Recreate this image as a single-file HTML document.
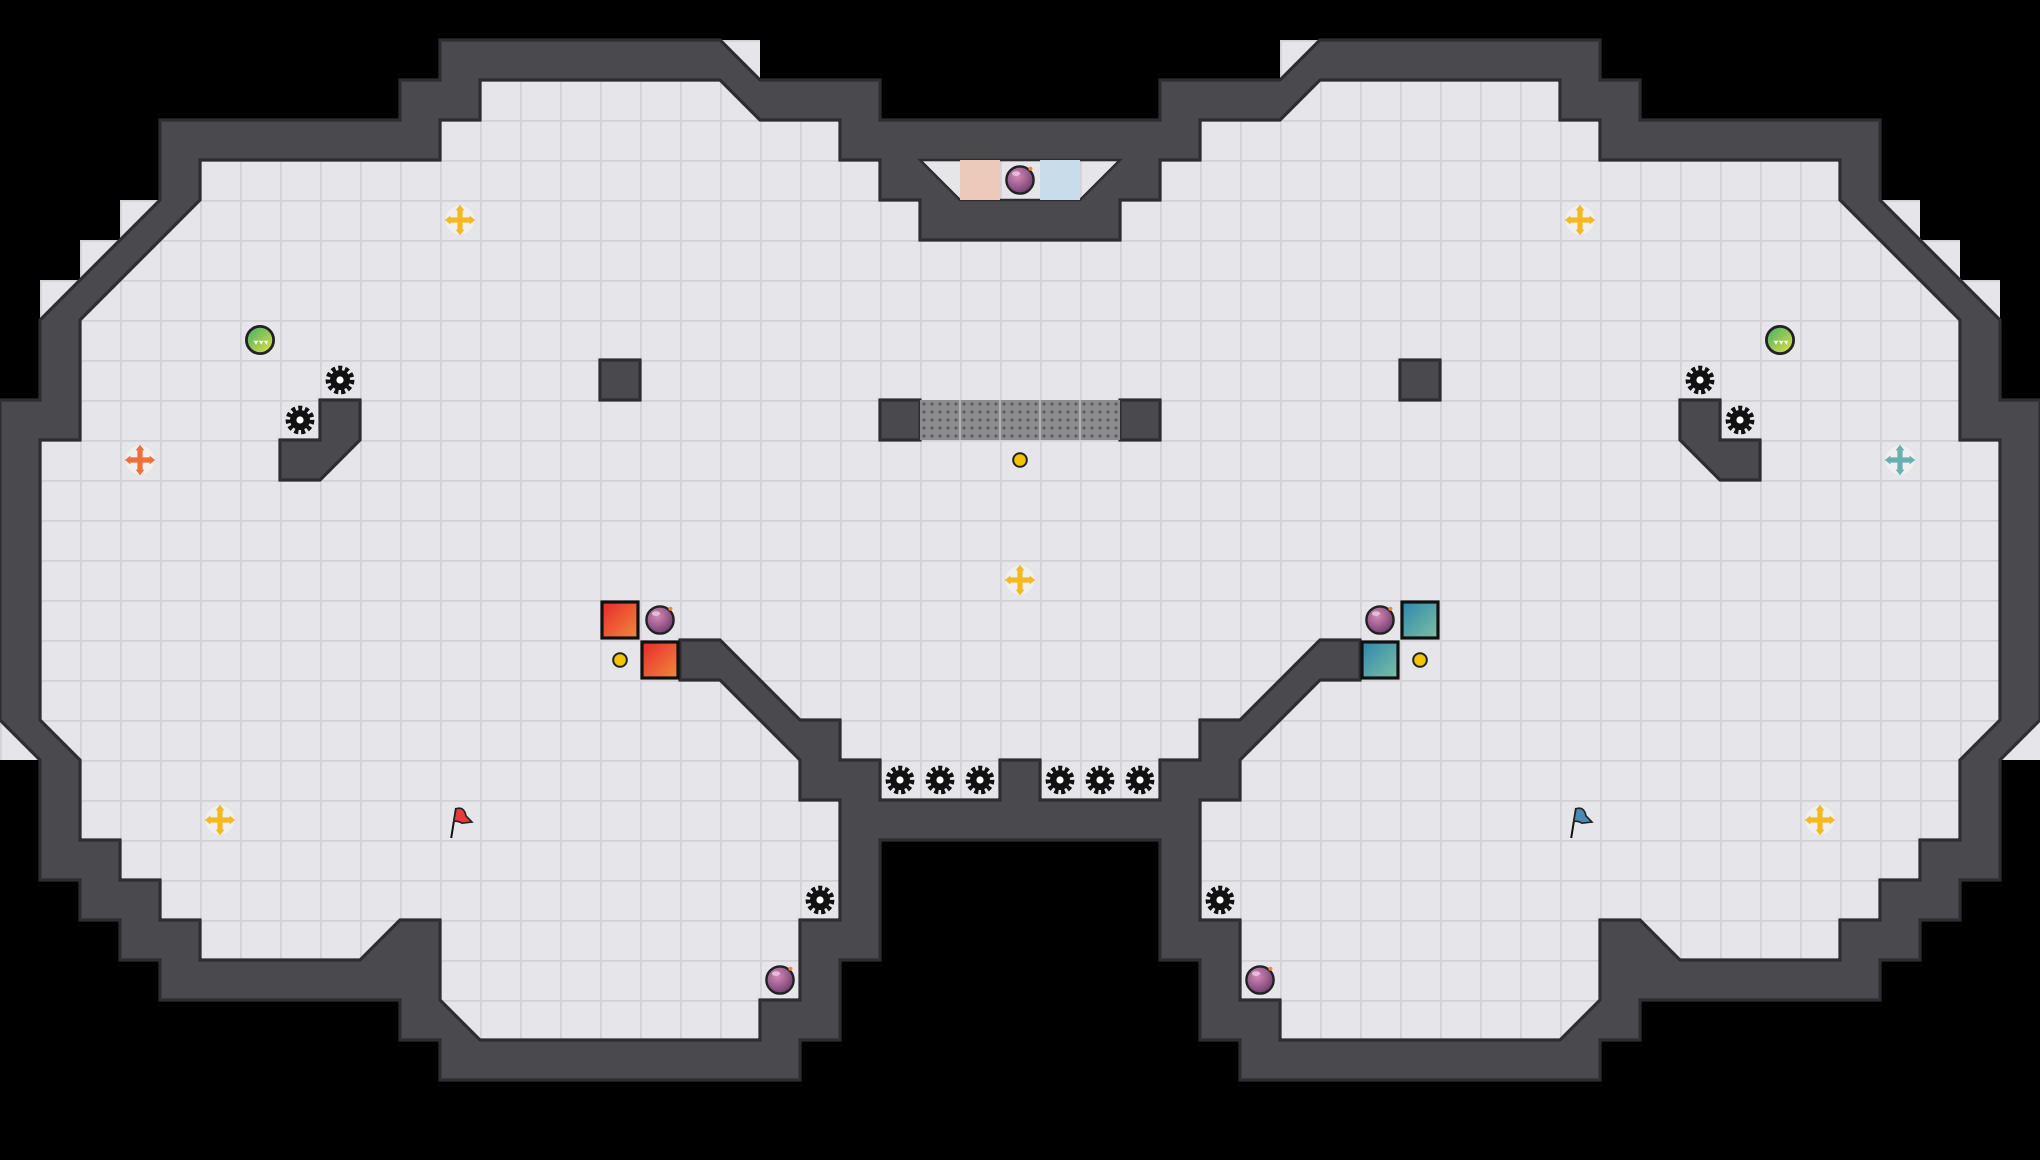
<!DOCTYPE html>
<html><head><meta charset="utf-8"><style>html,body{margin:0;padding:0;background:#000}svg{display:block}</style></head>
<body>
<svg width="2040" height="1160" viewBox="0 0 51 29" xmlns="http://www.w3.org/2000/svg">
<defs>
<pattern id="g" width="1" height="1" patternUnits="userSpaceOnUse">
<rect width="1" height="1" fill="#e6e6ea"/>
<path d="M0 0.02H1M0.02 0V1" stroke="#d2d2d6" stroke-width="0.05"/>
</pattern>
<pattern id="gr" width="0.2" height="0.2" patternUnits="userSpaceOnUse">
<rect width="0.2" height="0.2" fill="#8c8c8e"/>
<circle cx="0.1" cy="0.1" r="0.04" fill="#5e5e60"/>
</pattern>
<radialGradient id="bomb" cx="0.4" cy="0.35" r="0.7"><stop offset="0" stop-color="#d68ab6"/><stop offset="1" stop-color="#6b3a6e"/></radialGradient>
<linearGradient id="red" x1="0" y1="0" x2="1" y2="1"><stop offset="0" stop-color="#e8282e"/><stop offset="1" stop-color="#f08a3a"/></linearGradient>
<linearGradient id="blue" x1="0" y1="0" x2="1" y2="1"><stop offset="0" stop-color="#2f86b0"/><stop offset="1" stop-color="#7cc0a0"/></linearGradient>
<linearGradient id="pill" x1="0" y1="0" x2="1" y2="1"><stop offset="0" stop-color="#3fae6e"/><stop offset="1" stop-color="#e8e040"/></linearGradient>
<g id="gear"><circle r="0.3" fill="none" stroke="#111" stroke-width="0.12" stroke-dasharray="0.1 0.07"/><circle r="0.25" fill="#111"/><circle r="0.09" fill="#fff"/></g>
<g id="bm"><circle r="0.34" fill="url(#bomb)" stroke="#222" stroke-width="0.06"/><circle cx="0.26" cy="-0.28" r="0.05" fill="#f08a3a"/><ellipse cx="-0.1" cy="-0.16" rx="0.1" ry="0.06" fill="#f3d6ea" opacity="0.7"/></g>
<g id="by"><circle r="0.36" fill="#f4f4f4" opacity="0.7"/><path d="M-0.3 0H0.3M0 -0.3V0.3" stroke="#f5b820" stroke-width="0.13"/><path d="M-0.38 0L-0.24 -0.11V0.11ZM0.38 0L0.24 -0.11V0.11ZM0 -0.38L-0.11 -0.24H0.11ZM0 0.38L-0.11 0.24H0.11Z" fill="#f5b820"/></g>
<g id="bo"><circle r="0.36" fill="#f4f4f4" opacity="0.7"/><path d="M-0.3 0H0.3M0 -0.3V0.3" stroke="#f0703a" stroke-width="0.13"/><path d="M-0.38 0L-0.24 -0.11V0.11ZM0.38 0L0.24 -0.11V0.11ZM0 -0.38L-0.11 -0.24H0.11ZM0 0.38L-0.11 0.24H0.11Z" fill="#f0703a"/></g>
<g id="bt"><circle r="0.36" fill="#f4f4f4" opacity="0.7"/><path d="M-0.3 0H0.3M0 -0.3V0.3" stroke="#6ab0b0" stroke-width="0.13"/><path d="M-0.38 0L-0.24 -0.11V0.11ZM0.38 0L0.24 -0.11V0.11ZM0 -0.38L-0.11 -0.24H0.11ZM0 0.38L-0.11 0.24H0.11Z" fill="#6ab0b0"/></g>
<g id="pl"><circle r="0.34" fill="url(#pill)" stroke="#222" stroke-width="0.07"/><path d="M-0.16 0.02L-0.1 0.12L-0.04 0.02ZM-0.03 0.02L0.03 0.12L0.09 0.02ZM0.1 0.02L0.16 0.12L0.2 0.02Z" fill="#fff"/></g>
<g id="dot"><circle r="0.17" fill="#f5c400" stroke="#222" stroke-width="0.05"/></g>
</defs>
<rect width="51" height="29" fill="#000"/>
<!-- light triangles outside walls -->
<g fill="url(#g)">
<path d="M18 1H19V2Z"/><path d="M33 1H32V2Z"/>
<path d="M3 5H4L3 6Z"/><path d="M2 6H3L2 7Z"/><path d="M1 7H2L1 8Z"/>
<path d="M48 5H47L48 6Z"/><path d="M49 6H48L49 7Z"/><path d="M50 7H49L50 8Z"/>
<path d="M0 18V19H1Z"/><path d="M51 18V19H50Z"/>
</g>
<!-- outer wall -->
<polygon fill="#4a494e" stroke="#2e2d32" stroke-width="0.08" points="0,10 1,10 1,8 4,5 4,3 10,3 10,2 11,2 11,1 18,1 19,2 22,2 22,3 29,3 29,2 32,2 33,1 40,1 40,2 41,2 41,3 47,3 47,5 50,8 50,10 51,10 51,18 50,19 50,22 49,22 49,23 48,23 48,24 47,24 47,25 41,25 41,26 40,26 40,27 31,27 31,26 30,26 30,24 29,24 29,21 22,21 22,24 21,24 21,26 20,26 20,27 11,27 11,26 10,26 10,25 4,25 4,24 3,24 3,23 2,23 2,22 1,22 1,19 0,18"/>
<!-- floor -->
<polygon fill="url(#g)" stroke="#2e2d32" stroke-width="0.08" points="2,8 5,5 5,4 11,4 11,3 12,3 12,2 18,2 19,3 21,3 21,4 22,4 22,5 23,5 23,6 28,6 28,5 29,5 29,4 30,4 30,3 32,3 33,2 39,2 39,3 40,3 40,4 46,4 46,5 49,8 49,11 50,11 50,18 49,19 49,21 48,21 48,22 47,22 47,23 46,23 46,24 42,24 41,23 40,23 40,25 39,26 32,26 32,25 31,25 31,23 30,23 30,20 31,20 31,19 33,17 34,17 34,16 33,16 31,18 30,18 30,19 29,19 29,20 26,20 26,19 25,19 25,20 22,20 22,19 21,19 21,18 20,18 18,16 17,16 17,17 18,17 20,19 20,20 21,20 21,23 20,23 20,25 19,25 19,26 12,26 11,25 11,23 10,23 9,24 5,24 5,23 4,23 4,22 3,22 3,21 2,21 2,19 1,18 1,11 2,11"/>
<polygon fill="url(#g)" stroke="#2e2d32" stroke-width="0.06" points="23,4 28,4 27,5 24,5"/>
<rect x="24" y="4" width="1" height="1" fill="#ecc9b8"/>
<rect x="26" y="4" width="1" height="1" fill="#c9dce9"/>
<!-- islands -->
<g fill="#4a494e" stroke="#2e2d32" stroke-width="0.08">
<rect x="15" y="9" width="1" height="1"/><rect x="35" y="9" width="1" height="1"/>
<polygon points="8,10 9,10 9,11 8,12 7,12 7,11 8,11"/>
<polygon points="43,10 42,10 42,11 43,12 44,12 44,11 43,11"/>
<rect x="22" y="10" width="1" height="1"/><rect x="28" y="10" width="1" height="1"/>
</g>
<rect x="23" y="10" width="5" height="1" fill="url(#gr)"/>
<path d="M24 10V11M25 10V11M26 10V11M27 10V11" stroke="#b0b0b2" stroke-width="0.05"/>
<!-- boxes -->
<rect x="15.05" y="15.05" width="0.9" height="0.9" fill="url(#red)" stroke="#111" stroke-width="0.08"/>
<rect x="16.05" y="16.05" width="0.9" height="0.9" fill="url(#red)" stroke="#111" stroke-width="0.08"/>
<rect x="35.05" y="15.05" width="0.9" height="0.9" fill="url(#blue)" stroke="#111" stroke-width="0.08"/>
<rect x="34.05" y="16.05" width="0.9" height="0.9" fill="url(#blue)" stroke="#111" stroke-width="0.08"/>
<!-- items -->
<use href="#gear" x="8.5" y="9.5"/><use href="#gear" x="7.5" y="10.5"/>
<use href="#gear" x="42.5" y="9.5"/><use href="#gear" x="43.5" y="10.5"/>
<use href="#gear" x="22.5" y="19.5"/><use href="#gear" x="23.5" y="19.5"/><use href="#gear" x="24.5" y="19.5"/>
<use href="#gear" x="26.5" y="19.5"/><use href="#gear" x="27.5" y="19.5"/><use href="#gear" x="28.5" y="19.5"/>
<use href="#gear" x="20.5" y="22.5"/><use href="#gear" x="30.5" y="22.5"/>
<use href="#bm" x="25.5" y="4.5"/><use href="#bm" x="16.5" y="15.5"/><use href="#bm" x="34.5" y="15.5"/>
<use href="#bm" x="19.5" y="24.5"/><use href="#bm" x="31.5" y="24.5"/>
<use href="#by" x="11.5" y="5.5"/><use href="#by" x="39.5" y="5.5"/><use href="#by" x="25.5" y="14.5"/>
<use href="#by" x="5.5" y="20.5"/><use href="#by" x="45.5" y="20.5"/>
<use href="#bo" x="3.5" y="11.5"/><use href="#bt" x="47.5" y="11.5"/>
<use href="#pl" x="6.5" y="8.5"/><use href="#pl" x="44.5" y="8.5"/>
<use href="#dot" x="25.5" y="11.5"/><use href="#dot" x="15.5" y="16.5"/><use href="#dot" x="35.5" y="16.5"/>
<!-- flags -->
<g transform="translate(11.5,20.5)"><path d="M-0.22 0.45L-0.1 -0.3" stroke="#111" stroke-width="0.05"/><path d="M-0.1 -0.28Q0.1 -0.35 0.15 -0.1L0.3 0.05L0.05 0.08Q-0.1 0 -0.16 0.05Z" fill="#e83a3a" stroke="#222" stroke-width="0.04"/></g>
<g transform="translate(39.5,20.5)"><path d="M-0.22 0.45L-0.1 -0.3" stroke="#111" stroke-width="0.05"/><path d="M-0.1 -0.28Q0.1 -0.35 0.15 -0.1L0.3 0.05L0.05 0.08Q-0.1 0 -0.16 0.05Z" fill="#4a8ab8" stroke="#222" stroke-width="0.04"/></g>
</svg>
</body></html>
